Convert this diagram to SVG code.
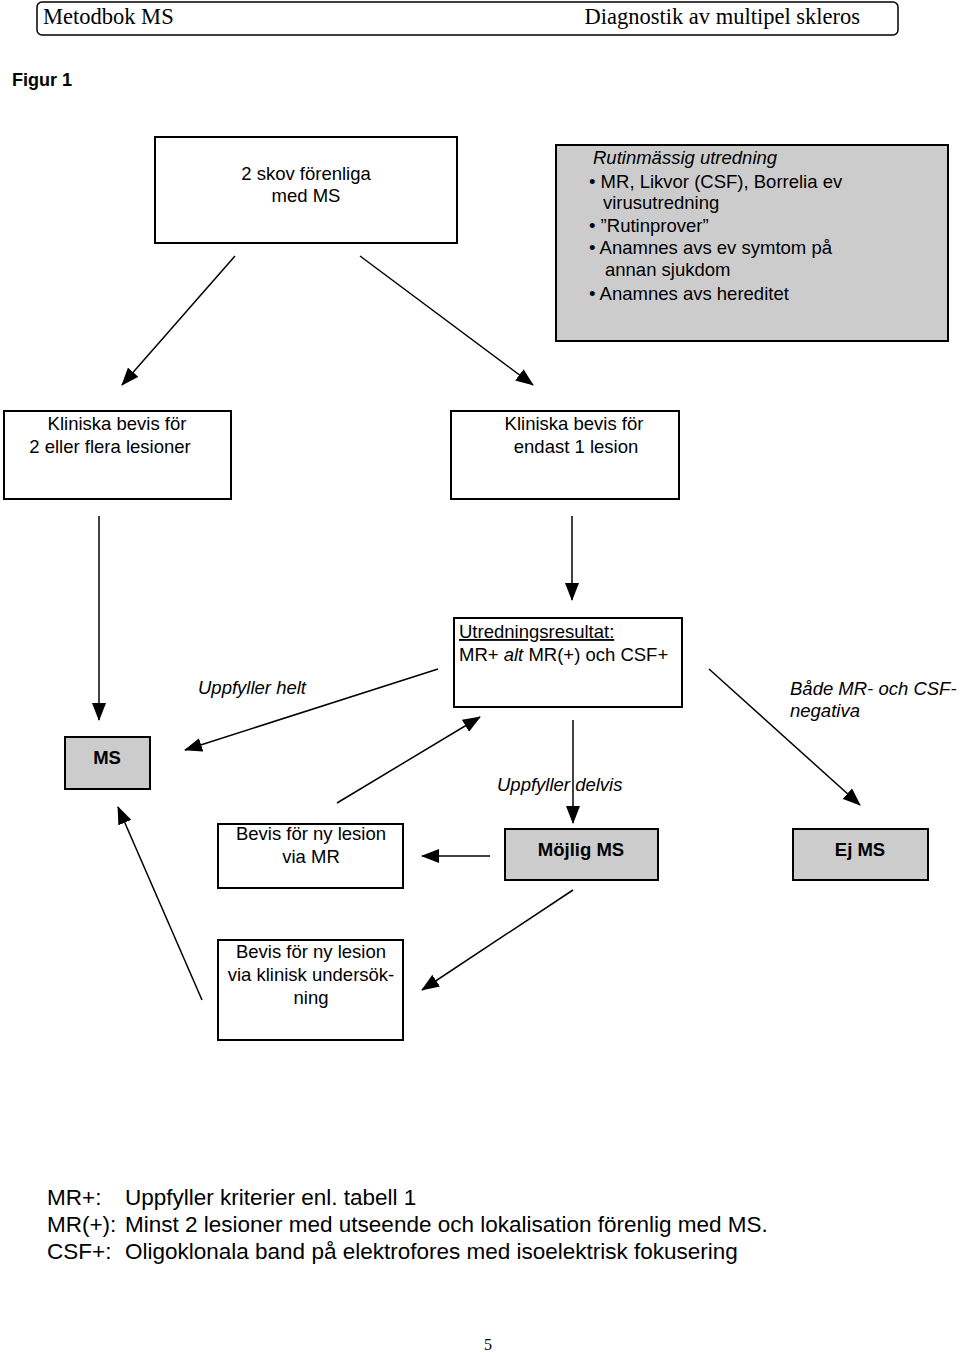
<svg xmlns="http://www.w3.org/2000/svg" width="960" height="1353" viewBox="0 0 960 1353">
<defs>
<style>
.t{font-family:"Liberation Sans",Arial,sans-serif;font-size:18.5px;fill:#000}
.i{font-style:italic}
.b{font-weight:bold}
.box{fill:#fff;stroke:#000;stroke-width:2}
.gbox{fill:#cccccc;stroke:#000;stroke-width:2}
.c{stroke:#000;stroke-width:1.5;fill:none;marker-end:url(#ah)}
.f{font-family:"Liberation Sans",Arial,sans-serif;font-size:22.5px;fill:#000}
.s{font-family:"Liberation Serif","Times New Roman",serif;font-size:22.5px;fill:#000}
</style>
<marker id="ah" viewBox="0 0 18 14" refX="17" refY="7" markerWidth="18" markerHeight="14" markerUnits="userSpaceOnUse" orient="auto">
<path d="M0,0 L18,7 L0,14 Z" fill="#000"/>
</marker>
</defs>
<rect width="960" height="1353" fill="#fff"/>
<g id="header">
<rect x="37" y="2" width="861" height="33" rx="5" fill="#fff" stroke="#000" stroke-width="1.5"/>
<text class="s" x="43" y="24">Metodbok MS</text>
<text class="s" x="860" y="24" text-anchor="end">Diagnostik av multipel skleros</text>
</g>
<text class="t b" x="12" y="86" style="font-size:18px">Figur 1</text>
<g id="connectors">
<line class="c" x1="235" y1="256" x2="122" y2="385"/>
<line class="c" x1="360" y1="256" x2="533" y2="385"/>
<line class="c" x1="99" y1="516" x2="99" y2="720"/>
<line class="c" x1="572" y1="516" x2="572" y2="600"/>
<line class="c" x1="438" y1="669" x2="185" y2="750"/>
<line class="c" x1="709" y1="669" x2="860" y2="805"/>
<line class="c" x1="337" y1="803" x2="480" y2="717"/>
<line class="c" x1="573" y1="720" x2="573" y2="823"/>
<line class="c" x1="490" y1="856" x2="422" y2="856"/>
<line class="c" x1="573" y1="890" x2="422" y2="990"/>
<line class="c" x1="202" y1="1000" x2="118" y2="807"/>
</g>
<g id="n-skov">
<rect class="box" x="155" y="137" width="302" height="106"/>
<text class="t" x="306" y="180" text-anchor="middle">2 skov förenliga</text>
<text class="t" x="306" y="202" text-anchor="middle">med MS</text>
</g>
<g id="n-rutin">
<rect class="gbox" x="556" y="145" width="392" height="196"/>
<text class="t i" x="593" y="164">Rutinmässig utredning</text>
<text class="t" x="589" y="188">• MR, Likvor (CSF), Borrelia ev</text>
<text class="t" x="603" y="209">virusutredning</text>
<text class="t" x="589" y="232">• ”Rutinprover”</text>
<text class="t" x="589" y="254">• Anamnes avs ev symtom på</text>
<text class="t" x="605" y="276">annan sjukdom</text>
<text class="t" x="589" y="300">• Anamnes avs hereditet</text>
</g>
<g id="n-flera">
<rect class="box" x="4" y="411" width="227" height="88"/>
<text class="t" x="117" y="430" text-anchor="middle">Kliniska bevis för</text>
<text class="t" x="110" y="453" text-anchor="middle">2 eller flera lesioner</text>
</g>
<g id="n-endast">
<rect class="box" x="451" y="411" width="228" height="88"/>
<text class="t" x="574" y="430" text-anchor="middle">Kliniska bevis för</text>
<text class="t" x="576" y="453" text-anchor="middle">endast 1 lesion</text>
</g>
<g id="n-utred">
<rect class="box" x="454" y="618" width="228" height="89"/>
<text class="t" x="459" y="638" text-decoration="underline">Utredningsresultat:</text>
<text class="t" x="459" y="661">MR+ <tspan class="i">alt</tspan> MR(+) och CSF+</text>
</g>
<text class="t i" x="198" y="694">Uppfyller helt</text>
<text class="t i" x="790" y="695">Både MR- och CSF-</text>
<text class="t i" x="790" y="717">negativa</text>
<text class="t i" x="497" y="791">Uppfyller delvis</text>
<g id="n-ms">
<rect class="gbox" x="65" y="737" width="85" height="52"/>
<text class="t b" x="107" y="764" text-anchor="middle">MS</text>
</g>
<g id="n-bevis-mr">
<rect class="box" x="218" y="824" width="185" height="64"/>
<text class="t" x="311" y="840" text-anchor="middle">Bevis för ny lesion</text>
<text class="t" x="311" y="863" text-anchor="middle">via MR</text>
</g>
<g id="n-mojlig">
<rect class="gbox" x="505" y="829" width="153" height="51"/>
<text class="t b" x="581" y="856" text-anchor="middle">Möjlig MS</text>
</g>
<g id="n-ejms">
<rect class="gbox" x="793" y="829" width="135" height="51"/>
<text class="t b" x="860" y="856" text-anchor="middle">Ej MS</text>
</g>
<g id="n-bevis-klin">
<rect class="box" x="218" y="940" width="185" height="100"/>
<text class="t" x="311" y="958" text-anchor="middle">Bevis för ny lesion</text>
<text class="t" x="311" y="981" text-anchor="middle">via klinisk undersök-</text>
<text class="t" x="311" y="1004" text-anchor="middle">ning</text>
</g>
<g id="legend">
<text class="f" x="47" y="1205">MR+:</text>
<text class="f" x="125" y="1205">Uppfyller kriterier enl. tabell 1</text>
<text class="f" x="47" y="1232">MR(+):</text>
<text class="f" x="125" y="1232">Minst 2 lesioner med utseende och lokalisation förenlig med MS.</text>
<text class="f" x="47" y="1259">CSF+:</text>
<text class="f" x="125" y="1259">Oligoklonala band på elektrofores med isoelektrisk fokusering</text>
</g>
<text class="s" x="484" y="1350" style="font-size:16px">5</text>
</svg>
